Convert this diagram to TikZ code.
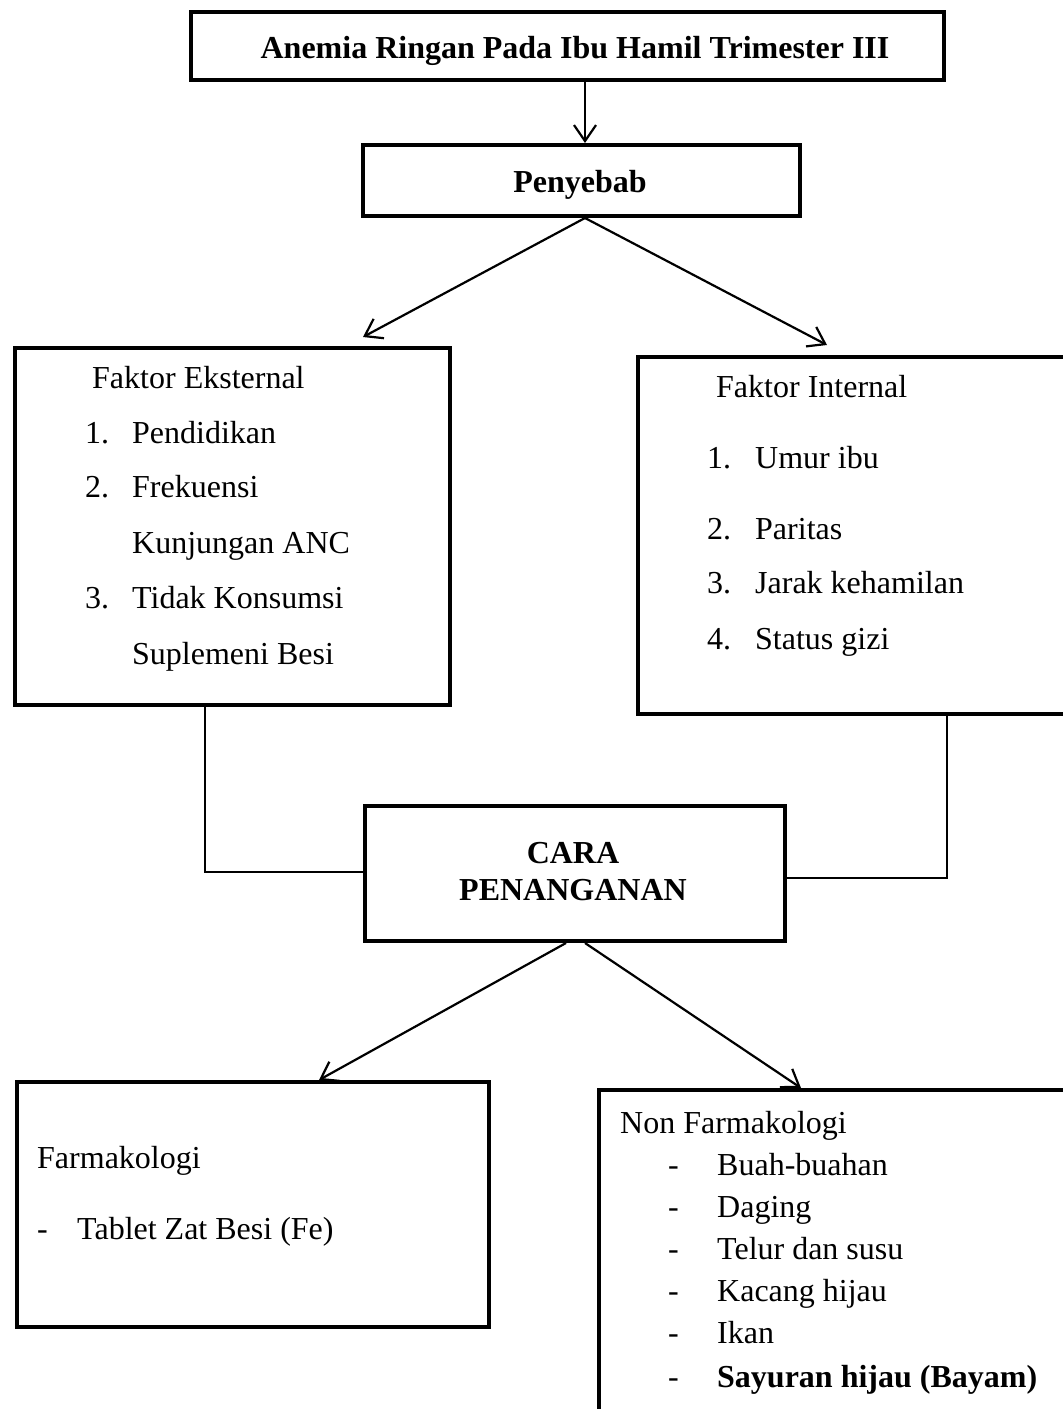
\documentclass[tikz,border=0pt]{standalone}
\usepackage{fontspec}
\setmainfont{Liberation Serif}
\usetikzlibrary{arrows.meta,calc}
\begin{document}
\begin{tikzpicture}[x=1pt,y=-1pt,
  box/.style={draw, line width=4pt, rectangle, inner sep=0pt, anchor=north west},
  txt/.style={font=\fontsize{32}{37}\selectfont, inner sep=0pt, anchor=base west},
  btxt/.style={font=\fontsize{32}{37}\selectfont\bfseries, inner sep=0pt, anchor=base},
  arr/.style={line width=2.2pt, -{Straight Barb[length=16pt,width=22pt]}},
  link/.style={line width=1.5pt}]
\useasboundingbox (0,0) rectangle (1063,1409);
\clip (0,0) rectangle (1063,1409);
\fill[white] (0,0) rectangle (1063,1409);

% boxes
\node[box, minimum width=753pt, minimum height=68pt] (title) at (189,10) {};
\node[box, minimum width=437pt, minimum height=71pt] (peny) at (361,143) {};
\node[box, minimum width=435pt, minimum height=357pt] (ekst) at (13,346) {};
\node[box, minimum width=500pt, minimum height=357pt] (intr) at (636,355) {};
\node[box, minimum width=420pt, minimum height=135pt] (cara) at (363,804) {};
\node[box, minimum width=472pt, minimum height=245pt] (farm) at (15,1080) {};
\node[box, minimum width=540pt, minimum height=400pt] (nonf) at (597,1088) {};

% titles
\node[btxt] (ttitle) at (575,58) {Anemia Ringan Pada Ibu Hamil Trimester III};
\node[btxt] (tpeny) at (580,192) {Penyebab};
\node[btxt] (tcara1) at (573,863) {CARA};
\node[btxt] (tcara2) at (573,900) {PENANGANAN};

% Faktor Eksternal
\node[txt] (ekh) at (92,388) {Faktor Eksternal};
\node[txt] (ek1n) at (85,443) {1.};
\node[txt] (ek1) at (132,443) {Pendidikan};
\node[txt] (ek2n) at (85,497) {2.};
\node[txt] (ek2) at (132,497) {Frekuensi};
\node[txt] (ek2b) at (132,553) {Kunjungan ANC};
\node[txt] (ek3n) at (85,608) {3.};
\node[txt] (ek3) at (132,608) {Tidak Konsumsi};
\node[txt] (ek3b) at (132,664) {Suplemeni Besi};

% Faktor Internal
\node[txt] (inh) at (716,397) {Faktor Internal};
\node[txt] (in1n) at (707,468) {1.};
\node[txt] (in1) at (755,468) {Umur ibu};
\node[txt] (in2n) at (707,539) {2.};
\node[txt] (in2) at (755,539) {Paritas};
\node[txt] (in3n) at (707,593) {3.};
\node[txt] (in3) at (755,593) {Jarak kehamilan};
\node[txt] (in4n) at (707,649) {4.};
\node[txt] (in4) at (755,649) {Status gizi};

% Farmakologi
\node[txt] (fah) at (37,1168) {Farmakologi};
\node[txt] (fa1d) at (37,1239) {-};
\node[txt] (fa1) at (77,1239) {Tablet Zat Besi (Fe)};

% Non Farmakologi
\node[txt] (nfh) at (620,1133) {Non Farmakologi};
\node[txt] (nf1d) at (668,1175) {-};
\node[txt] (nf1) at (717,1175) {Buah-buahan};
\node[txt] (nf2d) at (668,1217) {-};
\node[txt] (nf2) at (717,1217) {Daging};
\node[txt] (nf3d) at (668,1259) {-};
\node[txt] (nf3) at (717,1259) {Telur dan susu};
\node[txt] (nf4d) at (668,1301) {-};
\node[txt] (nf4) at (717,1301) {Kacang hijau};
\node[txt] (nf5d) at (668,1343) {-};
\node[txt] (nf5) at (717,1343) {Ikan};
\node[txt] (nf6d) at (668,1387) {-};
\node[txt, font=\fontsize{32}{37}\selectfont\bfseries] (nf6) at (717,1387) {Sayuran hijau (Bayam)};

% connectors
\coordinate (a1) at (585,0);
\draw[arr] (title.south -| a1) -- (peny.north -| a1);

\coordinate (f1) at (585,218);
\coordinate (tl) at (363,337);
\coordinate (tr) at (827,345);
\draw[arr] (f1) -- (tl);
\draw[arr] (f1) -- (tr);

\coordinate (lx) at (205,872);
\coordinate (rx) at (947,878);
\draw[link] (ekst.south -| lx) |- (cara.west |- lx);
\draw[link] (intr.south -| rx) |- (cara.east |- rx);

\coordinate (b1) at (566,943);
\coordinate (b2) at (585,943);
\coordinate (bl) at (319,0);
\coordinate (br) at (801,0);
\draw[arr] (b1) -- (farm.north -| bl);
\draw[arr] (b2) -- (nonf.north -| br);
\end{tikzpicture}
\end{document}
